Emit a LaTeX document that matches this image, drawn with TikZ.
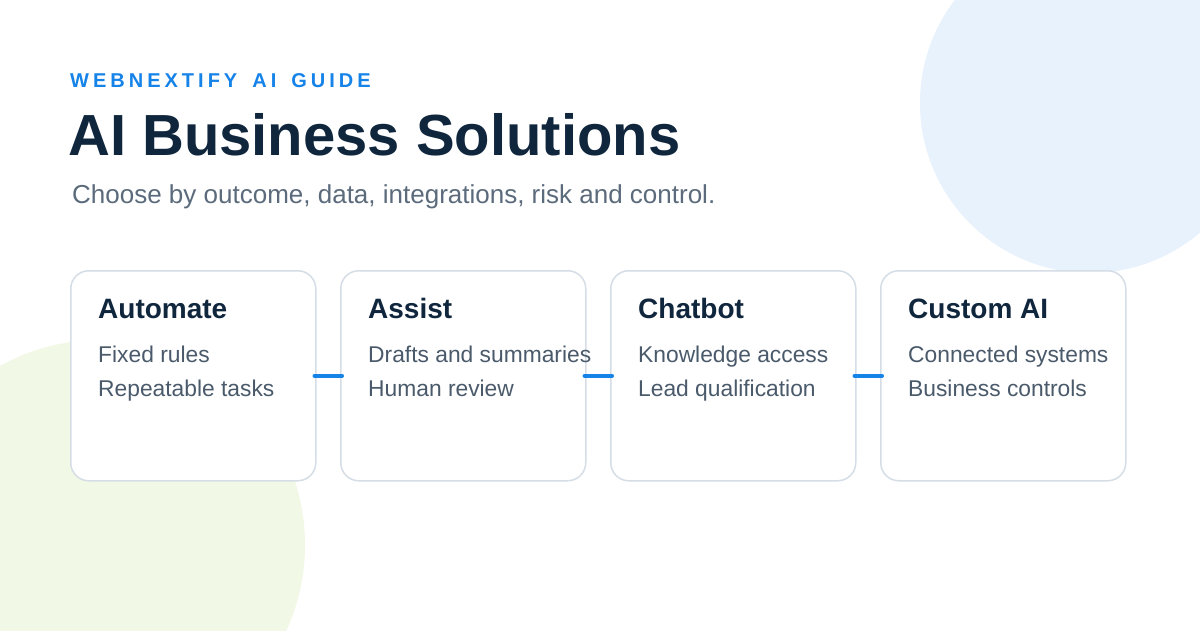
\documentclass[tikz,border=0pt]{standalone}
\usepackage{fontspec}
\setmainfont{Liberation Sans}
\newfontfamily\kickerfont[LetterSpace=20]{Liberation Sans}
\definecolor{accent}{HTML}{1683E8}
\definecolor{navy}{HTML}{10263D}
\definecolor{subgray}{HTML}{5B6B7C}
\definecolor{bodygray}{HTML}{4A5A6B}
\definecolor{cardline}{HTML}{D5DDE6}
\definecolor{blueblob}{HTML}{E8F2FC}
\definecolor{greenblob}{HTML}{F2F8E6}
\newcommand{\kgap}{\hspace{15pt}}
\begin{document}
\begin{tikzpicture}[x=1pt,y=-1pt,
  card/.style={draw=cardline,line width=1.5pt,fill=white,rounded corners=18pt,minimum width=245pt,minimum height=210pt,inner sep=0pt,anchor=north west},
  cardtitle/.style={anchor=base west,inner sep=0pt,text=navy,font=\fontsize{28}{32}\selectfont\bfseries},
  cardbody/.style={anchor=base west,inner sep=0pt,text=bodygray,font=\fontsize{22.8}{26}\selectfont},
  link/.style={draw=accent,line width=4pt,line cap=round,shorten <=-2pt,shorten >=-2pt}]
\useasboundingbox (0,0) rectangle (1200,630);
\fill[white] (0,0) rectangle (1200,630);
\begin{scope}
\clip (0,0) rectangle (1200,630);
\fill[blueblob] (1090,103) circle[radius=170];
\fill[greenblob] (100,545) circle[radius=205];
\end{scope}
\node[anchor=base west,inner sep=0pt,text=accent] (kicker) at (70,87) {\kickerfont\fontsize{20}{24}\selectfont\bfseries WEBNEXTIFY\kgap AI\kgap GUIDE};
\node[anchor=base west,inner sep=0pt,text=navy,font=\fontsize{58}{64}\selectfont\bfseries] (title) at (68,155) {AI Business Solutions};
\node[anchor=base west,inner sep=0pt,text=subgray,font=\fontsize{26}{30}\selectfont] (sub) at (72,203) {Choose by outcome, data, integrations, risk and control.};
\foreach \i/\x/\t/\a/\b in {1/70/Automate/Fixed rules/Repeatable tasks,
  2/340/Assist/Drafts and summaries/Human review,
  3/610/Chatbot/Knowledge access/Lead qualification,
  4/880/Custom AI/Connected systems/Business controls}{
  \node[card] (c\i) at (\x,270) {};
  \node[cardtitle] (t\i) at (\x+28,318) {\t};
  \node[cardbody] (p\i) at (\x+28,362) {\a};
  \node[cardbody] (q\i) at (\x+28,396) {\b};
}
\draw[link] (c1.east) -- (c2.west);
\draw[link] (c2.east) -- (c3.west);
\draw[link] (c3.east) -- (c4.west);
\end{tikzpicture}
\end{document}
